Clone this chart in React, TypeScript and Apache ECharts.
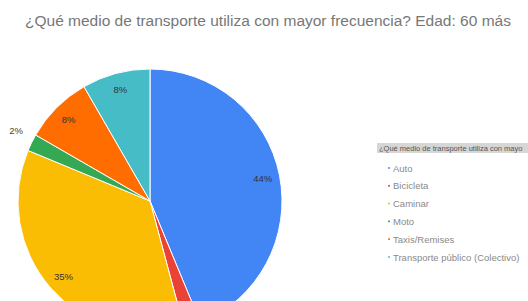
import React, { useEffect, useRef } from "react";
import * as echarts from "echarts";

const titleText = "¿Qué medio de transporte utiliza con mayor frecuencia? Edad: 60 más";
const legendHeader = "¿Qué medio de transporte utiliza con mayor frecuencia?";
const categories = ["Auto", "Bicicleta", "Caminar", "Moto", "Taxis/Remises", "Transporte público (Colectivo)"];
const counts = [21, 1, 17, 1, 4, 4];
const colors = ["#4285F4", "#EA4335", "#FBBC04", "#34A853", "#FF6D01", "#46BDC6"];
const insideLabel = [true, false, true, false, true, true];
const outsideLabel = [false, false, false, true, false, false];

export default function App() {
  const ref = useRef<HTMLDivElement>(null);
  useEffect(() => {
    if (!ref.current) return;
    const chart = echarts.init(ref.current, undefined, { renderer: "svg" });
    const total = counts.reduce((a, b) => a + b, 0);
    const font = "Liberation Sans, Arial, sans-serif";
    const baseData = categories.map((name, i) => ({
      name,
      value: counts[i],
      itemStyle: { color: colors[i] },
    }));
    const labelData = categories.map((name, i) => ({
      name,
      value: counts[i],
      itemStyle: { color: "transparent", borderWidth: 0 },
      label: { show: insideLabel[i] },
    }));
    const outsideData = categories.map((name, i) => ({
      name,
      value: counts[i],
      itemStyle: { color: "transparent", borderWidth: 0 },
      label: { show: outsideLabel[i] },
    }));
    const fmt = (p: any) => Math.round((p.value / total) * 100) + "%";
    chart.setOption({
      animation: false,
      backgroundColor: "#ffffff",
      title: {
        text: titleText,
        left: 20,
        top: 7,
        textStyle: { fontSize: 15.5, fontWeight: "normal", color: "#777777", fontFamily: font },
      },
      legend: {
        orient: "vertical",
        left: 381,
        top: 158,
        icon: "circle",
        itemWidth: 4,
        itemHeight: 4,
        itemGap: 7.8,
        data: categories,
        textStyle: { fontSize: 9.5, color: "#8a8a8a", lineHeight: 10, padding: [0, 0, 0, -3], fontFamily: font },
        selectedMode: false,
      },
      graphic: [
        { type: "rect", shape: { x: 377, y: 143, width: 151, height: 10 }, style: { fill: "#d6d6d6" } },
        {
          type: "text",
          x: 379,
          y: 144.5,
          style: { text: legendHeader, fontSize: 7.5, fill: "#555555", fontFamily: font, width: 148, overflow: "truncate", ellipsis: "" },
        },
      ],
      series: [
        {
          type: "pie",
          center: [150, 201],
          radius: [0, 132],
          startAngle: 90,
          clockwise: true,
          silent: true,
          label: { show: false },
          labelLine: { show: false },
          itemStyle: { borderColor: "#ffffff", borderWidth: 1 },
          data: baseData,
        },
        {
          type: "pie",
          center: [150, 201],
          radius: [92, 132],
          startAngle: 90,
          clockwise: true,
          silent: true,
          legendHoverLink: false,
          label: { position: "inside", formatter: fmt, fontSize: 9.5, color: "#333333", fontFamily: font },
          labelLine: { show: false },
          data: labelData,
        },
        {
          type: "pie",
          center: [150, 201],
          radius: [0, 132],
          startAngle: 90,
          clockwise: true,
          silent: true,
          label: { position: "outside", formatter: fmt, fontSize: 9.5, color: "#444444", fontFamily: font, overflow: "none", edgeDistance: 0 },
          labelLine: { show: false, length: 4, length2: 0 },
          labelLayout: { dy: -10 },
          data: outsideData,
        },
      ],
    });
    return () => chart.dispose();
  }, []);
  return <div ref={ref} style={{ position: "fixed", left: 0, top: 0, width: 528, height: 301 }} />;
}
